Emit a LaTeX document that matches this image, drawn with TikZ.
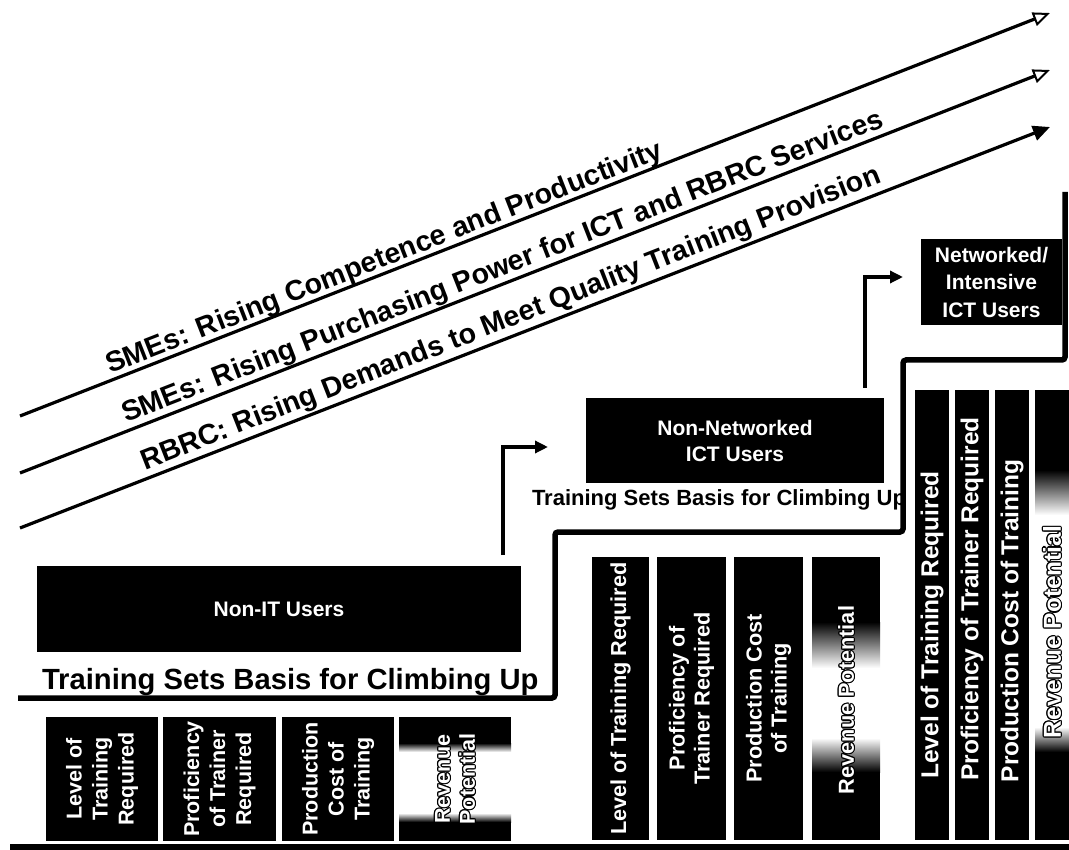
\documentclass[tikz,border=0pt]{standalone}
\usepackage{fontspec}
\setmainfont{Liberation Sans}
\usetikzlibrary{arrows.meta}

% bold text at a given size / line spacing
\newcommand{\fs}[2]{\fontsize{#1}{#2}\selectfont\bfseries}

% white text with a black outline: #1 name, #2 position, #3 style, #4 text
\newcommand{\outlined}[4]{%
  \foreach \ang in {0,30,...,330}
    \node[#3, text=black, shift={(\ang:1.1pt)}] at #2 {#4};
  \node[#3, text=white] (#1) at #2 {#4};
}

% black column fading to white in the middle:
% x1, x2, top, end of top black, start of white, end of white, start of bottom black, bottom
\newcommand{\fadebar}[8]{%
  \fill[black] (#1,#3) rectangle (#2,#4);
  \shade[top color=black, bottom color=white] (#1,#4) rectangle (#2,#5);
  \fill[white] (#1,#5) rectangle (#2,#6);
  \shade[top color=white, bottom color=black] (#1,#6) rectangle (#2,#7);
  \fill[black] (#1,#7) rectangle (#2,#8);
}

\begin{document}
\begin{tikzpicture}[x=1pt, y=-1pt,
  every node/.style={inner sep=0pt, outer sep=0pt},
  userbox/.style={fill=black, text=white, align=center, font=\fs{21}{26}},
  bar/.style={fill=black, text=white, align=center, rotate=90},
  bartext/.style={text=white, align=center, rotate=90},
  trend/.style={line width=3.2pt},
  openhead/.style={-{Triangle[open, length=17pt, width=14pt, line width=2pt]}},
  fullhead/.style={-{Triangle[length=17pt, width=15pt]}},
  slopetext/.style={anchor=base west, rotate=21.35, font=\fs{28.5}{32}},
  stair/.style={line width=5.5pt, rounded corners=3pt},
  climb/.style={line width=4pt, -{Triangle[length=13pt, width=12pt]}},
]
\useasboundingbox (0,0) rectangle (1069,850);
\fill[white] (0,0) rectangle (1069,850);

% ---- rising trend lines ----
\coordinate (l1s) at (20,416);  \coordinate (l1e) at (1050,13);
\coordinate (l2s) at (20,473);  \coordinate (l2e) at (1050,70);
\coordinate (l3s) at (20,528);  \coordinate (l3e) at (1050,127);
\draw[trend, openhead] (l1s) -- (l1e);
\draw[trend, openhead] (l2s) -- (l2e);
\draw[trend, fullhead] (l3s) -- (l3e);
\node[slopetext] (t1) at (110,374) {SMEs: Rising Competence and Productivity};
\node[slopetext] (t2) at (126,423) {SMEs: Rising Purchasing Power for ICT and RBRC Services};
\node[slopetext] (t3) at (145,470) {RBRC: Rising Demands to Meet Quality Training Provision};

% ---- user groups ----
\node[userbox, minimum width=484pt, minimum height=86pt] (nonit) at (279,609) {Non-IT Users};
\node[userbox, minimum width=298pt, minimum height=85pt] (nonnet) at (735,440.5) {Non-Networked\\ICT Users};
\node[userbox, minimum width=141pt, minimum height=86pt, font=\fs{21}{27.5}] (net) at (991.5,282) {Networked/\\Intensive\\ICT Users};

% ---- climbing arrows ----
\coordinate (c1s) at (503,555); \coordinate (c1e) at (548,447);
\coordinate (c2s) at (865,388); \coordinate (c2e) at (903,277);
\draw[climb] (c1s) |- (c1e);
\draw[climb] (c2s) |- (c2e);

% ---- captions of each step ----
\node[anchor=base west, font=\fs{29.2}{32}] (basis1) at (42,689) {Training Sets Basis for Climbing Up};
\begin{scope}
  \clip (500,470) rectangle (903,520);
  \node[anchor=base west, font=\fs{22}{26}] (basis2) at (532,505) {Training Sets Basis for Climbing Up};
\end{scope}

% ---- staircase and base ----
\draw[stair] (18,698) -- (555,698) -- (555,532) -- (903,532) -- (903,360) -- (1065,360) -- (1065,192);
\fill[black] (10,844) rectangle (1075,851);

% ---- first step: bars ----
\node[bar, minimum width=124pt, minimum height=112pt, font=\fs{21.5}{26}] (a1) at (102,779) {Level of\\Training\\Required};
\node[bar, minimum width=124pt, minimum height=113pt, font=\fs{21.5}{26}] (a2) at (219.5,779) {Proficiency\\of Trainer\\Required};
\node[bar, minimum width=124pt, minimum height=112pt, font=\fs{21.5}{26}] (a3) at (338,779) {Production\\Cost of\\Training};
\fadebar{399}{511}{717}{743}{752}{813}{822}{841}
\outlined{a4}{(455,779)}{bartext, font=\fs{21.5}{25}}{Revenue\\Potential}

% ---- second step: bars ----
\node[bar, minimum width=283pt, minimum height=57pt, font=\fs{21.7}{25}] (m1) at (620.5,698.5) {Level of Training Required};
\node[bar, minimum width=283pt, minimum height=69pt, font=\fs{21.7}{25}] (m2) at (691.5,698.5) {Proficiency of\\Trainer Required};
\node[bar, minimum width=283pt, minimum height=69pt, font=\fs{21.7}{25}] (m3) at (768.5,698.5) {Production Cost\\of Training};
\fadebar{812}{880}{557}{622}{668}{738}{772}{840}
\outlined{m4}{(846,700)}{bartext, font=\fs{21.7}{25}}{Revenue Potential}

% ---- third step: bars ----
\node[bar, minimum width=450pt, minimum height=34pt] (r1) at (932,615) {};
\node[bar, minimum width=450pt, minimum height=34pt] (r2) at (972,615) {};
\node[bar, minimum width=450pt, minimum height=34pt] (r3) at (1012,615) {};
\node[bartext, font=\fs{24.5}{28}] (r1t) at (932,625) {Level of Training Required};
\node[bartext, font=\fs{24.5}{28}] (r2t) at (972,599) {Proficiency of Trainer Required};
\node[bartext, font=\fs{24.5}{28}] (r3t) at (1012,621) {Production Cost of Training};
\fadebar{1035}{1075}{390}{470}{515}{727}{752}{840}
\outlined{r4}{(1052,632)}{bartext, font=\fs{24.5}{28}}{Revenue Potential}
\end{tikzpicture}
\end{document}
